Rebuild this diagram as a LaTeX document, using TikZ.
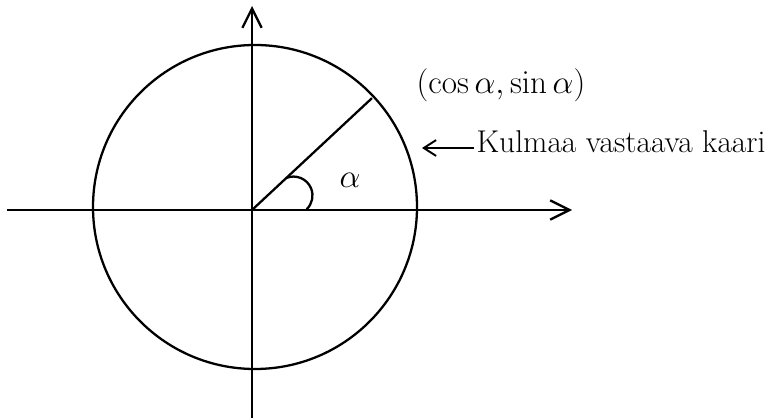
\documentclass[tikz,border=0pt]{standalone}
\usepackage{amsmath}
\usetikzlibrary{arrows.meta,positioning}

\begin{document}
\begin{tikzpicture}[x=0.02cm, y=0.02cm,
    ax/.style={line width=1.3pt, -{Straight Barb[length=11pt, width=11pt]}},
    ln/.style={line width=1.3pt},
    ptr/.style={line width=1.1pt, -{Straight Barb[length=7pt, width=9pt]}},
    lbl/.style={font=\huge, scale=0.91, transform shape, inner sep=1.5pt}]
    \useasboundingbox (0,0) rectangle (770,419);
    % axes
    \coordinate (O) at (252,209);
    \coordinate (xl) at (7,209);
    \coordinate (xr) at (572,209);
    \coordinate (yb) at (252,1);
    \coordinate (yt) at (252,413);
    \draw [ax] (xl) -- (xr);
    \draw [ax] (yb) -- (yt);
    % unit circle, radius and angle
    \draw [ln] ([shift={(3,3)}]O) circle [radius=162];
    \coordinate (P) at ([shift={(43:164)}]O);
    \draw [ln] (O) -- (P);
    \draw [ln] ([shift={(43:47)}]O) arc [start angle=112, end angle=-46, radius=19];
    \node [lbl] (alpha) at (350,239) {$\alpha$};
    \node [lbl] (pt) at (501,334) {$(\cos\alpha,\sin\alpha)$};
    \node [lbl, scale=0.95, anchor=base west] (arc) at (474,266) {Kulmaa vastaava kaari};
    \coordinate (tip) at (422,271);
    \draw [ptr] (arc.west |- tip) -- (tip);
\end{tikzpicture}
\end{document}
